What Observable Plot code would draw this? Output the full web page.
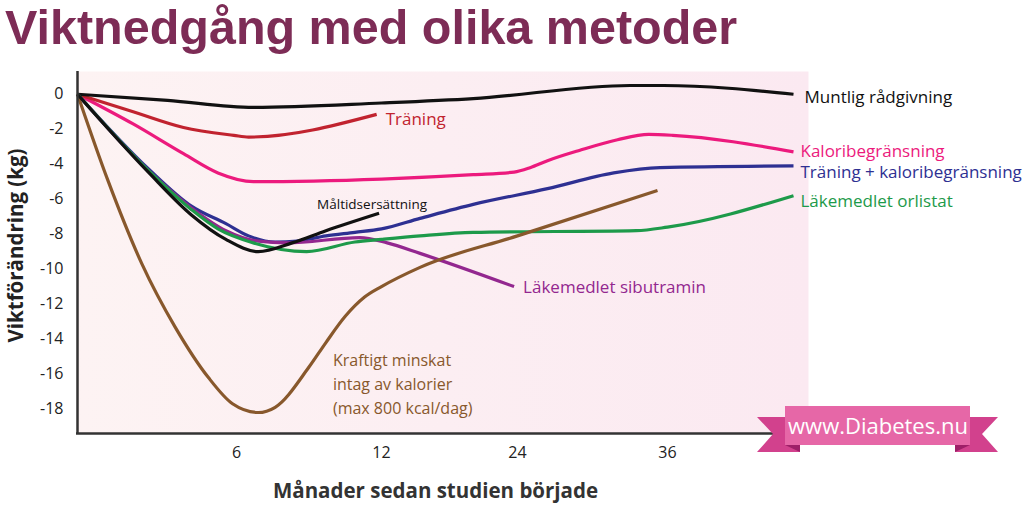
<!DOCTYPE html>
<html><head><meta charset="utf-8">
<script src="https://cdn.jsdelivr.net/npm/d3@7"></script>
<script src="https://cdn.jsdelivr.net/npm/@observablehq/plot@0.6"></script>
<style>
body{margin:0;background:#fff;}
#wrap{position:relative;width:1024px;height:514px;overflow:hidden;}
#title{position:absolute;left:5px;top:0px;font:bold 48.5px "Liberation Sans",Arial,sans-serif;line-height:54px;color:#7d2c56;white-space:nowrap;z-index:2;}
#chart{position:absolute;left:0;top:0;}
#banner{position:absolute;left:0;top:0;pointer-events:none;}
</style></head>
<body><div id="wrap"><div id="chart"></div><div id="title">Viktnedgång med olika metoder</div>
<svg id="banner" width="1024" height="514">
  <polygon points="757,417 800,417 800,452 757,452 773,434" fill="#d2418d"/>
  <polygon points="785,445 800,445 800,452" fill="#9e1f68"/>
  <polygon points="955,417 998,417 982,434 998,452 955,452" fill="#d2418d"/>
  <polygon points="955,445 970,445 955,452" fill="#9e1f68"/>
  <rect x="785" y="406" width="185" height="39" fill="#e667a7"/>
  <text x="878" y="434" text-anchor="middle" fill="#fff" font-family="Open Sans, sans-serif" font-size="22">www.Diabetes.nu</text>
</svg>
</div>
<script>
// ---- data (months since start, weight change kg) ----
const yTicks = [0,-2,-4,-6,-8,-10,-12,-14,-16,-18];
const xTicks = [6,12,24,36];
const monthStops = [0,6,12,24,36,48];

const kalori = [[0,0],[2.1,-1.7],[4,-3.4],[5.3,-4.5],[6.7,-5.0],[12,-4.85],[20.1,-4.6],[23.7,-4.45],[25,-4.2],[26.4,-3.8],[29,-3.2],[32,-2.6],[34.5,-2.3],[36.5,-2.35],[48,-3.3]];
const traning = [[0,0],[2.1,-1.0],[4,-1.9],[5.9,-2.35],[6.5,-2.45],[11.8,-1.15]];
const muntlig = [[0,0],[3.4,-0.35],[6.7,-0.75],[12,-0.5],[20.1,-0.25],[33,0.5],[35.7,0.5],[48,0]];
const tranKalori = [[0,0],[2.7,-4.3],[4.3,-6.4],[5.6,-7.4],[6.5,-8.1],[7.6,-8.45],[8.5,-8.4],[9.7,-8.1],[10.9,-7.9],[12,-7.7],[15.4,-7.1],[20.1,-6.3],[26.4,-5.4],[31.7,-4.5],[35.4,-4.2],[48,-4.1]];
const sibutramin = [[0,0],[2.7,-4.4],[4.3,-6.5],[5.6,-7.8],[6.9,-8.4],[8.1,-8.5],[11.1,-8.2],[12.5,-8.5],[15.4,-9.1],[23.7,-11.0]];
const orlistat = [[0,0],[2.7,-4.4],[4.3,-6.6],[5.3,-7.7],[6.7,-8.5],[8.9,-9.0],[10.9,-8.45],[12,-8.3],[15.4,-8.1],[20.1,-7.9],[33.5,-7.8],[36,-7.6],[48,-5.8]];
const kraftigt = [[0,0],[1.14,-4.9],[2.43,-9.7],[3.68,-13.3],[4.94,-16.2],[5.85,-17.7],[6.9,-18.2],[7.6,-17.9],[9,-15.6],[9.7,-14.2],[10.5,-12.7],[11.3,-11.6],[12,-11.0],[15.4,-9.9],[24,-8.1],[35.2,-5.5]];
const maltid = [[0,0],[2.7,-4.5],[4.3,-6.9],[5.6,-8.3],[6.9,-9.0],[8.3,-8.5],[9.7,-7.8],[11.9,-6.8]];

const seriesNames = ["Kaloribegränsning","Träning","Muntlig rådgivning","Träning + kaloribegränsning","Läkemedlet sibutramin","Läkemedlet orlistat","Kraftigt minskat","Måltidsersättning"];
const seriesData = [kalori, traning, muntlig, tranKalori, sibutramin, orlistat, kraftigt, maltid];
const seriesColors = ["#ec1a7d","#c1232f","#111111","#2e3092","#93278f","#1d9a4a","#88582c","#111111"];
const kraftigtLabel = "Kraftigt minskat\nintag av kalorier\n(max 800 kcal/dag)";

// ---- build ----
const rows = seriesNames.flatMap((name, i) => seriesData[i].map(([m, kg]) => ({name, m, kg})));
const colorOf = Object.fromEntries(seriesNames.map((n, i) => [n, seriesColors[i]]));
const lastOf = name => rows.filter(d => d.name === name).slice(-1);

function endLabel(name, dx, dy, extra = {}) {
  return Plot.text(lastOf(name), {x: "m", y: "kg", text: "name", dx, dy, textAnchor: "start",
    fill: colorOf[name], fontSize: 17, ...extra});
}

const chart = Plot.plot({
  width: 1024, height: 514,
  marginTop: 71, marginBottom: 81, marginLeft: 76, marginRight: 216,
  style: {fontFamily: "'Open Sans', sans-serif", fontSize: "16px", color: "#222", background: "transparent"},
  x: {type: "linear", domain: monthStops, range: [77, 236, 381, 517, 667, 793]},
  y: {domain: [-19.4, 1.3]},
  marks: [
    Plot.frame({fill: "url(#bgGrad)", stroke: null}),
    Plot.axisY({ticks: yTicks, tickSize: 0, tickPadding: 13, tickFormat: d => String(d), fontSize: 16, label: null, fill: "#222"}),
    Plot.axisX({ticks: xTicks, tickSize: 0, tickPadding: 13, tickFormat: d => String(d), fontSize: 16, label: null, fill: "#222"}),
    ...seriesNames.map(name => Plot.line(rows.filter(d => d.name === name), {
      x: "m", y: "kg", stroke: colorOf[name], strokeWidth: 3.2, curve: "monotone-x",
      strokeLinecap: "butt", strokeLinejoin: "round"
    })),
    Plot.ruleX([0], {stroke: "#333", strokeWidth: 2.5}),
    Plot.ruleY([-19.4], {stroke: "#333", strokeWidth: 2.5}),
    endLabel("Muntlig rådgivning", 11, 3),
    endLabel("Kaloribegränsning", 7, 0),
    endLabel("Träning + kaloribegränsning", 7, 7),
    endLabel("Läkemedlet orlistat", 7, 6),
    endLabel("Läkemedlet sibutramin", 9, 1),
    endLabel("Träning", 9, 5),
    endLabel("Måltidsersättning", -62, -8, {fontSize: 13.5}),
    Plot.text([kraftigt[9]], {x: d => d[0], y: d => d[1], text: () => kraftigtLabel, dx: 7, dy: 6,
      lineAnchor: "top", lineHeight: 1.52, textAnchor: "start", fill: colorOf["Kraftigt minskat"], fontSize: 16}),
    Plot.text(["Viktförändring (kg)"], {frameAnchor: "left", rotate: -90, dx: -60, dy: -7,
      textAnchor: "middle", fontSize: 20.5, fontWeight: "bold", fill: "#222"}),
    Plot.text(["Månader sedan studien började"], {frameAnchor: "bottom", dx: -7, dy: 64,
      textAnchor: "middle", fontSize: 20.5, fontWeight: "bold", fill: "#333"})
  ]
});

const defs = d3.select(chart).insert("defs", ":first-child");
const g = defs.append("linearGradient").attr("id", "bgGrad").attr("x1", "0").attr("x2", "1").attr("y1", "0").attr("y2", "0");
g.append("stop").attr("offset", "0").attr("stop-color", "#fdf3f3");
g.append("stop").attr("offset", "1").attr("stop-color", "#fbe9f1");

document.getElementById("chart").appendChild(chart);
</script>
</body></html>
